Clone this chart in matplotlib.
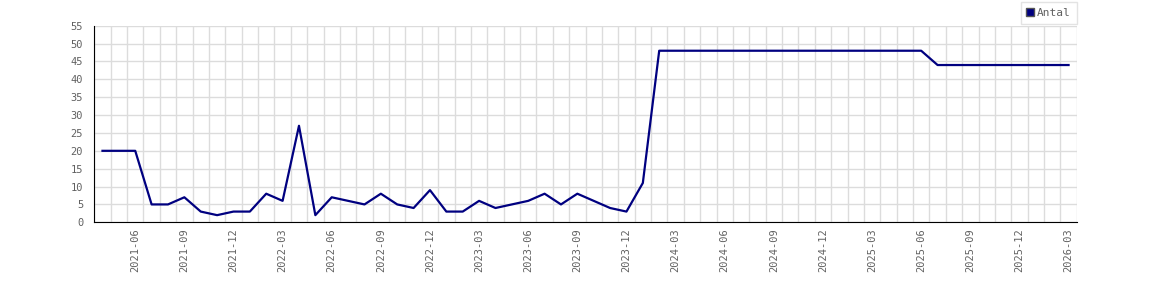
import matplotlib
matplotlib.use("Agg")
import matplotlib.pyplot as plt
import numpy as np

# monthly values, 2021-04 .. 2026-03
months = []
for y in range(2021, 2027):
    for m in range(1, 13):
        if (y, m) >= (2021, 4) and (y, m) <= (2026, 3):
            months.append("%d-%02d" % (y, m))

antal = [20, 20, 20, 5, 5, 7, 3, 2, 3, 3, 8, 6,
         27, 2, 7, 6, 5, 8, 5, 4, 9, 3, 3, 6,
         4, 5, 6, 8, 5, 8, 6, 4, 3, 11, 48, 48,
         48, 48, 48, 48, 48, 48, 48, 48, 48, 48, 48, 48,
         48, 48, 48, 44, 44, 44, 44, 44, 44, 44, 44, 44]

plt.rcParams['font.family'] = ['DejaVu Sans Mono']

fig = plt.figure(figsize=(11.7, 3.0), dpi=100)
ax = fig.add_axes([0.0806, 0.259, 0.8397, 0.6553])

x = np.arange(len(antal)) + 0.5
ax.plot(x, antal, color='#000080', linewidth=1.6, label='Antal')

ax.set_xlim(0, len(antal))
ax.set_ylim(0, 55)
ax.set_yticks(range(0, 56, 5))

# grid on every month boundary, labels every third month
ax.set_xticks(np.arange(0, len(antal) + 1), minor=True)
lab_idx = list(range(2, len(antal), 3))
ax.set_xticks(x[lab_idx])
ax.set_xticklabels([months[i] for i in lab_idx], rotation=90)

ax.grid(which='minor', axis='x', color='#dcdcdc', linewidth=1)
ax.grid(which='major', axis='y', color='#dcdcdc', linewidth=1)
ax.set_axisbelow(True)

ax.tick_params(axis='both', which='both', length=0, labelsize=7.5, colors='#606060')
ax.tick_params(axis='x', pad=4)
ax.tick_params(axis='y', pad=8)

for s in ['top', 'right']:
    ax.spines[s].set_visible(False)
ax.spines['left'].set_color('black')
ax.spines['bottom'].set_color('black')

leg = fig.legend(handles=[plt.Line2D([], [], marker='s', linestyle='none',
                                     markerfacecolor='#000080', markeredgecolor='#555555',
                                     markersize=5.5)],
                 labels=['Antal'], loc='upper right', bbox_to_anchor=(0.9205, 0.995),
                 fontsize=8, frameon=True, fancybox=False, handlelength=0.6,
                 handletextpad=0.3, borderpad=0.55, borderaxespad=0)
leg.get_frame().set_edgecolor('#dcdcdc')
leg.get_frame().set_linewidth(1)
for t in leg.get_texts():
    t.set_color('#606060')

fig.savefig("out.png", dpi=100)
